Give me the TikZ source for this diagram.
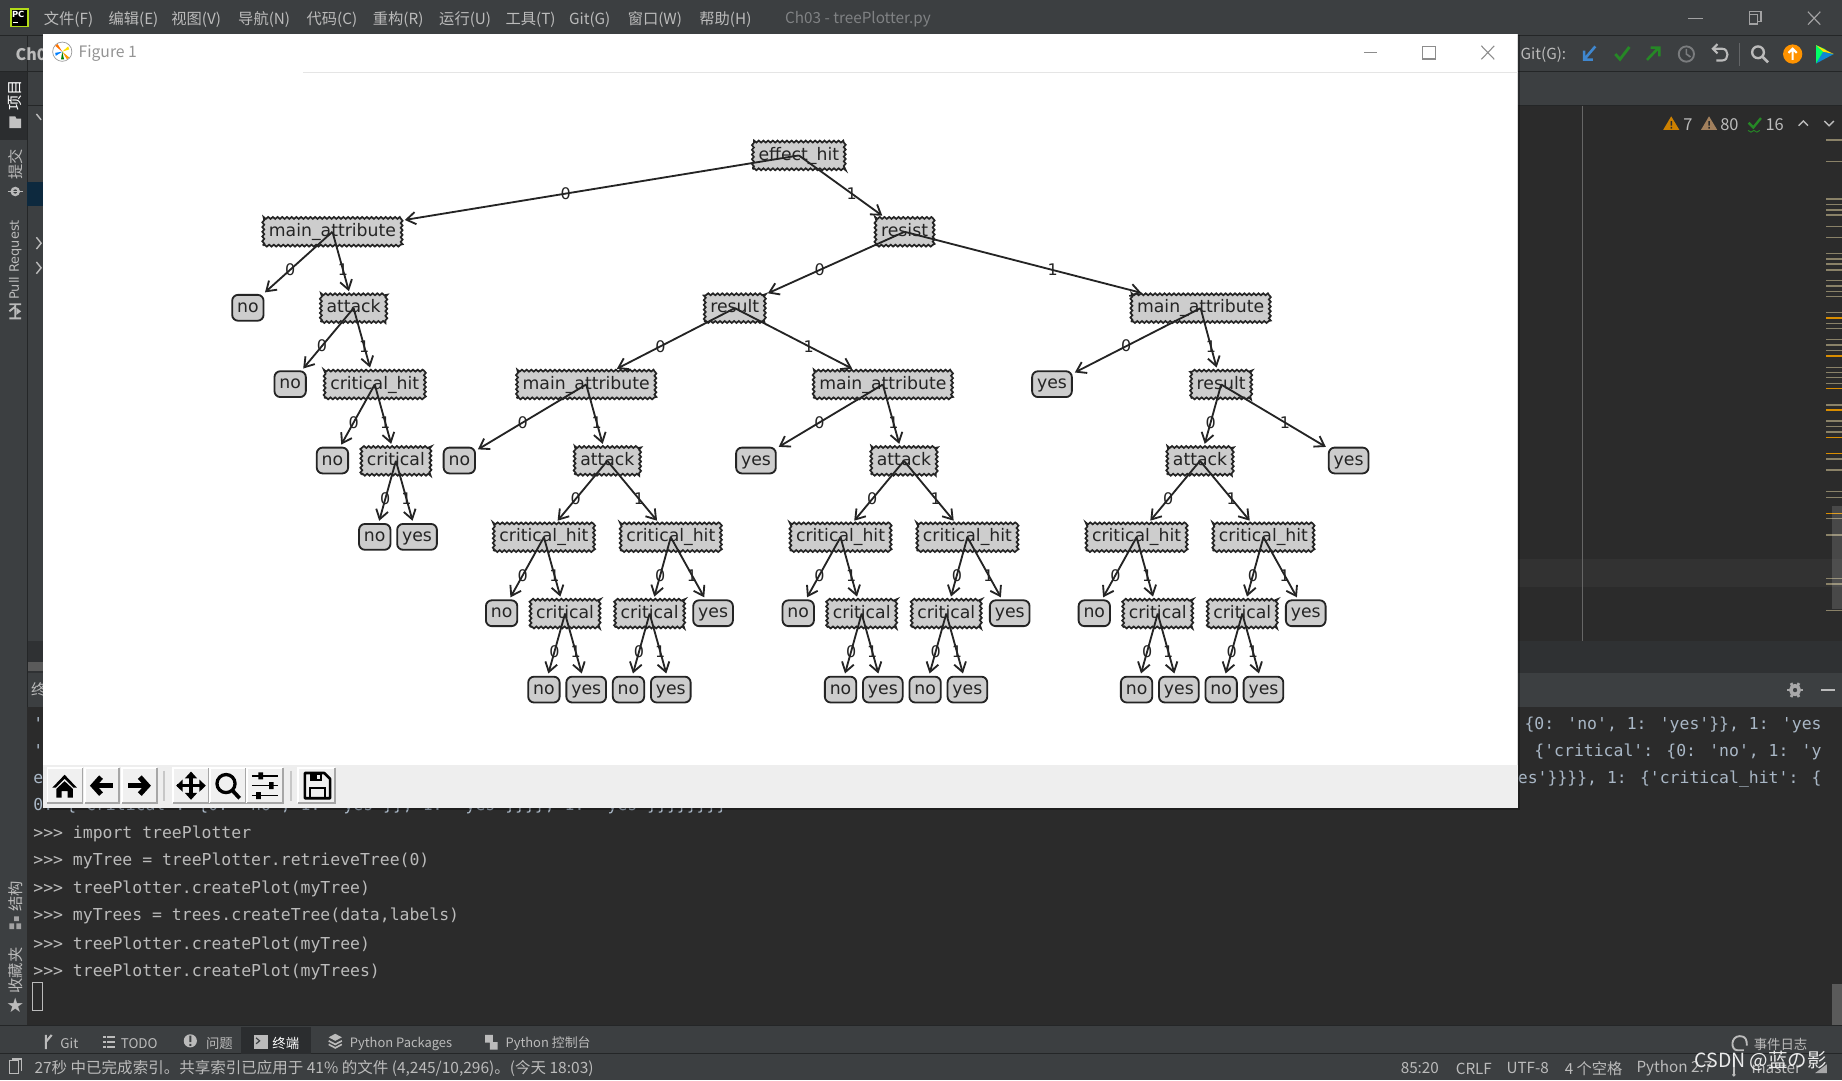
\documentclass[tikz,border=0pt]{standalone}
\usepackage{fontspec}
\setmainfont{Noto Sans CJK SC}
\newfontfamily\treefont{DejaVu Sans}
\newfontfamily\monofont{DejaVu Sans Mono}
\usetikzlibrary{arrows.meta,calc,decorations.pathmorphing,shapes.geometric}
\definecolor{ide}{HTML}{3C3F41}
\definecolor{dark}{HTML}{2B2B2B}
\definecolor{caretrow}{HTML}{323232}
\definecolor{stripe}{HTML}{8A8268}
\definecolor{selrow}{HTML}{0D293E}
\definecolor{uitext}{HTML}{BBBBBB}
\definecolor{mono}{HTML}{A9B7C6}
\definecolor{boxfill}{HTML}{CDCDCD}
\definecolor{ink}{HTML}{242424}
\newcommand{\fsz}[1]{\fontsize{#1}{#1}\selectfont}
\tikzset{
  ui/.style={inner sep=0pt,anchor=west,yshift=-0.5pt,text=uitext,font=\fsz{6.5}},
  tab/.style={ui,font=\fsz{5.7}},
  term/.style={inner sep=0pt,anchor=west,yshift=-1pt,text=mono,font=\monofont\fsz{7}},
  termr/.style={term,anchor=east},
  vert/.style={inner sep=0pt,rotate=90,xshift=0.4pt,text=uitext,font=\fsz{6.5}},
  dec/.style={draw=ink,fill=boxfill,line width=0.72pt,decorate,yshift=-0.65pt,
    decoration={zigzag,segment length=2pt,amplitude=0.42pt},
    inner xsep=2.4pt,inner ysep=2.3pt,text height=5.6pt,text depth=1.6pt,
    font=\treefont\fsz{7.35},text=ink},
  leaf/.style={draw=ink,fill=boxfill,line width=0.78pt,rounded corners=2.5pt,yshift=-0.5pt,
    inner xsep=2.1pt,inner ysep=1.9pt,text height=5.6pt,text depth=1.6pt,
    font=\treefont\fsz{7.35},text=ink},
  edge/.style={draw=ink,line width=0.78pt,-{Straight Barb[length=3.9pt,width=5.2pt]},shorten >=1pt},
  lab/.style={inner sep=0pt,font=\treefont\fsz{6.8},text=ink},
}
\newcommand{\ed}[3]{\draw[edge] (#1.center) -- (#2);
  \node[lab] (l#1#2) at ($(#1.center)!0.5!(#2.center)$) {#3};}
% attack subtree repeated three times
\newcommand{\subt}[2]{%
  \node[dec] (#1at) at (#2,391) {attack};
  \node[dec] (#1cha) at ({#2-54},456) {critical\_hit};
  \node[dec] (#1chb) at ({#2+54},456) {critical\_hit};
  \node[leaf] (#1n1) at ({#2-90},521) {no};
  \node[dec] (#1cra) at ({#2-36},521) {critical};
  \node[dec] (#1crb) at ({#2+36},521) {critical};
  \node[leaf] (#1y1) at ({#2+90},521) {yes};
  \node[leaf] (#1n2) at ({#2-54},586) {no};
  \node[leaf] (#1y2) at ({#2-18},586) {yes};
  \node[leaf] (#1n3) at ({#2+18},586) {no};
  \node[leaf] (#1y3) at ({#2+54},586) {yes};
  \ed{#1at}{#1cha}{0}\ed{#1at}{#1chb}{1}
  \ed{#1cha}{#1n1}{0}\ed{#1cha}{#1cra}{1}
  \ed{#1chb}{#1crb}{0}\ed{#1chb}{#1y1}{1}
  \ed{#1cra}{#1n2}{0}\ed{#1cra}{#1y2}{1}
  \ed{#1crb}{#1n3}{0}\ed{#1crb}{#1y3}{1}
}
\newcommand{\tbtn}[2]{%
  \fill[white!94!black] (#1,653.8) rectangle (#2,683.6);
  \draw[white,line width=0.5pt] (#1,683.6) -- (#1,653.8) -- (#2,653.8);
  \draw[black!35,line width=0.6pt] (#2,653.8) -- (#2,683.6) -- (#1,683.6);
}
\begin{document}
\begin{tikzpicture}[x=0.5pt,y=-0.5pt]
\useasboundingbox (0,0) rectangle (1568,919.35);
% ---------- IDE background
\fill[ide] (0,0) rectangle (1568,919.35);
\draw[black!40!ide,line width=0.4pt] (0,30.5) -- (1568,30.5);
\draw[black!40!ide,line width=0.4pt] (0,61) -- (1568,61);
\draw[black!40!ide,line width=0.4pt] (0,90) -- (1568,90);
\fill[black!22!ide] (1292,546) rectangle (1568,573);
\fill[black!22!ide] (23,546) rectangle (37,573);
% editor
\fill[dark] (1292,90) rectangle (1568,546);
\fill[caretrow] (1292,476) rectangle (1568,499.7);
\draw[white!28!dark,line width=0.5pt] (1347,90) -- (1347,546);
% stripes
\foreach \s in {101,155,250,265,278,291,320,348,388,402,415,430,456,470,484,497,537,565,578,606,620,634,676,689,702,717,771,812,826,840,908,936,990,1005,1059,1100,1210,1224,1292}
  \fill[stripe] (1554.5,{85.13+\s*0.3365-0.6}) rectangle (1568,{85.13+\s*0.3365+0.6});
\foreach \s in {552,648,730,784,854,894,1046}
  \fill[orange!70!yellow!85!black] (1554.5,{85.13+\s*0.3365-0.65}) rectangle (1568,{85.13+\s*0.3365+0.65});
\fill[white,opacity=0.14] (1559.6,430.8) rectangle (1568,518);
% left strip
\draw[black!40!ide,line width=0.4pt] (23,31) -- (23,873);
\fill[black!28!ide] (0,61) rectangle (23,119);
\fill[selrow] (23,155) rectangle (37,175.6);
\draw[uitext,line width=0.6pt] (31,97) -- (35,102);
\draw[uitext,line width=0.6pt] (31,202) -- (35,207) -- (31,212);
\draw[uitext,line width=0.6pt] (31,223) -- (35,228) -- (31,233);
\fill[white!22!dark] (24,563.5) rectangle (37,571);
\node[inner sep=0pt,text=uitext,font=\fsz{6.5}] (pan) at (33,587) {终};
% terminal
\fill[dark] (23,602) rectangle (1568,873);
\node[term] (tl1) at (28,614) {'};
\node[term] (tl2) at (28,637) {'};
\node[term] (tl3) at (28,661) {e};
\node[termr] (tr1) at (1551,615) {: \{0: 'no', 1: 'yes'\}\}, 1: 'yes};
\node[termr] (tr2) at (1551,638) {0: \{'critical': \{0: 'no', 1: 'y};
\node[termr] (tr3) at (1551,661) {'yes'\}\}\}\}, 1: \{'critical\_hit': \{};
\node[term] (tl4) at (28,684) {0: \{'critical': \{0: 'no', 1: 'yes'\}\}, 1: 'yes'\}\}\}\}, 1: 'yes'\}\}\}\}\}\}\}\}};
\node[term,text=uitext] (t1) at (28,708) {>>> import treePlotter};
\node[term,text=uitext] (t2) at (28,731) {>>> myTree = treePlotter.retrieveTree(0)};
\node[term,text=uitext] (t3) at (28,755) {>>> treePlotter.createPlot(myTree)};
\node[term,text=uitext] (t4) at (28,778) {>>> myTrees = trees.createTree(data,labels)};
\node[term,text=uitext] (t5) at (28,802) {>>> treePlotter.createPlot(myTree)};
\node[term,text=uitext] (t6) at (28,825) {>>> treePlotter.createPlot(myTrees)};
\draw[uitext,line width=0.4pt] (27.6,836.5) rectangle (36,860);
\fill[white!22!dark] (1559.5,838) rectangle (1568,873);
% menu bar
\fill[black] (8.7,7.6) rectangle (24,23);
\draw[yellow!70!green,line width=0.8pt] (9.1,8) rectangle (23.6,22.6);
\node[inner sep=0pt,text=white,font=\treefont\bfseries\fsz{3.6}] (pc) at (15.5,12.5) {PC};
\draw[white,line width=0.4pt] (11,19.5) -- (15,19.5);
\node[ui] (m1) at (37,15.5) {文件(F)};
\node[ui] (m2) at (92,15.5) {编辑(E)};
\node[ui] (m3) at (145.5,15.5) {视图(V)};
\node[ui] (m4) at (202.4,15.5) {导航(N)};
\node[ui] (m5) at (260.6,15.5) {代码(C)};
\node[ui] (m6) at (317,15.5) {重构(R)};
\node[ui] (m7) at (373.5,15.5) {运行(U)};
\node[ui] (m8) at (430,15.5) {工具(T)};
\node[ui] (m9) at (484,15.5) {Git(G)};
\node[ui] (m10) at (534,15.5) {窗口(W)};
\node[ui] (m11) at (595,15.5) {帮助(H)};
\node[ui,text=white!35!ide] (title) at (668,15.5) {Ch03 - treePlotter.py};
% main window controls
\draw[uitext!80!ide,line width=0.5pt] (1437,16) -- (1450,16);
\draw[uitext!80!ide,line width=0.5pt] (1489,12) -- (1489,10) -- (1499,10) -- (1499,18) -- (1496,18);
\draw[uitext!80!ide,line width=0.5pt] (1489,12) rectangle (1496,20.5);
\draw[uitext!80!ide,line width=0.5pt] (1539,10) -- (1549.5,21) (1549.5,10) -- (1539,21);
% nav bar
\node[inner sep=0pt,anchor=west,text=uitext,font=\bfseries\fsz{6.8}] (ch) at (13,46) {Ch03};
\node[ui] (git) at (1294,46) {Git(G):};
% blue arrow
\draw[cyan!55!blue!80,line width=1.1pt] (1358,39.5) -- (1349,50) (1348.5,43) -- (1348.5,50.8) -- (1356,50.8);
% green check
\draw[green!45!black!85,line width=1.2pt] (1375,46) -- (1379,50.5) -- (1387,40);
% green arrow
\draw[green!45!black!85,line width=1.1pt] (1402,51) -- (1412,40.5) (1405,40.5) -- (1412.5,40.5) -- (1412.5,48);
% clock
\draw[white!32!ide,line width=0.8pt] (1435.5,46) circle[radius=6.5];
\draw[white!32!ide,line width=0.7pt] (1435.5,41.5) -- (1435.5,46) -- (1439,48.5);
% undo
\draw[uitext,line width=0.9pt] (1459,41.5) -- (1466,41.5) .. controls (1472,41.5) and (1472,51.5) .. (1466,51.5) -- (1461,51.5);
\draw[uitext,line width=0.9pt] (1462,37.5) -- (1458,41.5) -- (1462,45.5);
\draw[white!20!ide,line width=0.4pt] (1480.4,37) -- (1480.4,56);
% search
\draw[uitext,line width=1pt] (1496.5,44.5) circle[radius=5];
\draw[uitext,line width=1.2pt] (1500.5,48.5) -- (1505,53);
% orange circle
\fill[orange!85!yellow] (1526,46) circle[radius=8.2];
\draw[white,line width=0.9pt] (1526,51) -- (1526,42) (1522.5,45) -- (1526,41.5) -- (1529.5,45);
% colour logo
\fill[green!60!cyan] (1546,38.5) -- (1554,42) -- (1546,54) -- cycle;
\fill[cyan!70!blue] (1546,54) -- (1561,46) -- (1552,44) -- cycle;
\fill[yellow!80!orange] (1546,38.5) -- (1561,46) -- (1552,44) -- cycle;
% inspection summary
\fill[orange!75!yellow!80!black] (1422.6,99) -- (1429.5,110.5) -- (1415.8,110.5) -- cycle;
\fill[dark] (1422,103) rectangle (1423.3,107) (1422,108) rectangle (1423.3,109.4);
\node[ui,font=\fsz{7}] (w1) at (1432.5,105) {7};
\fill[brown!55!gray] (1454.8,99) -- (1461.7,110.5) -- (1448,110.5) -- cycle;
\fill[dark] (1454.2,103) rectangle (1455.5,107) (1454.2,108) rectangle (1455.5,109.4);
\node[ui,font=\fsz{7}] (w2) at (1464,105) {80};
\draw[green!45!black!85,line width=1pt] (1488.5,104.5) -- (1492.5,108.5) -- (1499,100.5);
\draw[green!45!black!85,line width=0.4pt] (1488,111) -- (1490.5,112.5) -- (1493,111) -- (1495.5,112.5) -- (1498,111);
\node[ui,font=\fsz{7}] (w3) at (1502.5,105) {16};
\draw[uitext,line width=0.6pt] (1531,107) -- (1535,103) -- (1539,107);
\draw[uitext,line width=0.6pt] (1553,103) -- (1557,107) -- (1561,103);
% terminal header
\coordinate (gearc) at (1528,587.4);
\draw[uitext!85!ide,line width=1.5pt] (gearc) circle[radius=3.6];
\foreach \a in {0,60,...,300} \draw[uitext!85!ide,line width=1.2pt] ($(gearc)+(\a:4.2)$) -- ($(gearc)+(\a:6.8)$);
\draw[uitext,line width=0.8pt] (1550,587.4) -- (1562,587.4);
% left vertical tabs
\node[vert,text=white] (v1) at (13,82) {项目};
\fill[uitext!90!white] (8,99) -- (13,99) -- (14,101) -- (18,101) -- (18,109) -- (8,109) -- cycle;
\node[vert] (v2) at (13,141) {提交};
\draw[uitext,line width=1pt] (13,163) circle[radius=3];
\draw[uitext,line width=0.7pt] (6.5,163) -- (19.5,163);
\node[vert,font=\treefont\fsz{5.5}] (v3) at (13,222) {Pull Request};
\draw[uitext,line width=0.8pt] (8,259) -- (18,259) (13,259) -- (13,271) (8,265) -- (13,261) (8,271) -- (18,271);
\fill[uitext] (14,262) -- (18,265) -- (14,268) -- cycle;
\node[vert] (v4) at (13,764) {结构};
\fill[uitext!80!ide] (12,780) rectangle (16,784) (8,786) rectangle (12,791) (14,786) rectangle (18,791);
\node[vert] (v5) at (13,827) {收藏夹};
\node[inner sep=0pt,text=uitext,font=\treefont\fsz{8.5}] (star) at (13,855.5) {★};
% bottom tool bar
\draw[black!40!ide,line width=0.4pt] (0,873) -- (1568,873);
\draw[black!40!ide,line width=0.4pt] (0,897) -- (1568,897);
\fill[black!28!ide] (205,874) rectangle (265,897);
\draw[uitext,line width=0.9pt] (39,881) -- (39,893) (39,887) -- (44,881);
\node[tab] (b1) at (51,887.5) {Git};
\foreach \q in {883,887,891} {\fill[uitext] (88,\q-0.7) rectangle (90,\q+0.7); \fill[uitext] (91,\q-0.7) rectangle (98,\q+0.7);}
\node[tab] (b2) at (102.5,887.5) {TODO};
\fill[uitext] (162,886) circle[radius=5.6];
\fill[ide] (161.2,881.5) rectangle (162.8,887) (161.2,888.5) rectangle (162.8,890.2);
\node[tab] (b3) at (175,887.5) {问题};
\fill[uitext] (216,881) rectangle (228,893);
\draw[ide,line width=0.5pt] (218,883.5) -- (221,886) -- (218,888.5);
\node[tab,text=white] (b4) at (231.5,887.5) {终端};
\fill[uitext] (285.4,880) -- (291,883) -- (285.4,886) -- (279.8,883) -- cycle;
\draw[uitext,line width=0.7pt] (279.8,886) -- (285.4,889) -- (291,886) (279.8,889) -- (285.4,892) -- (291,889);
\node[tab,font=\fsz{5.5}] (b5) at (297.5,887.5) {Python Packages};
\fill[uitext] (413,881) rectangle (419.5,887.5) (417,887) rectangle (423.5,893.5);
\node[tab,font=\fsz{5.5}] (b6) at (430,887.5) {Python 控制台};
\draw[uitext,line width=0.8pt] (1484.5,894) -- (1479,894) .. controls (1473,894) and (1473,882) .. (1481,882) .. controls (1486,882) and (1487,885) .. (1487,890);
\node[tab] (b7) at (1492.5,888) {事件日志};
% status bar
\draw[uitext,line width=0.5pt] (8,903) rectangle (16,914);
\draw[uitext,line width=0.5pt] (10,901.5) -- (18,901.5) -- (18,912);
\node[ui,font=\fsz{6.6}] (s1) at (29,908.5) {27秒 中已完成索引。共享索引已应用于 41\% 的文件 (4,245/10,296)。(今天 18:03)};
\node[ui] (s2) at (1192,908.5) {85:20};
\node[ui] (s3) at (1238.8,908.5) {CRLF};
\node[ui] (s4) at (1282,908.5) {UTF-8};
\node[ui] (s5) at (1331.6,908.5) {4 个空格};
\node[ui] (s6) at (1392.7,908.5) {Python 2.7};
\draw[uitext,line width=0.7pt] (1476,900) -- (1476,915);
\fill[uitext] (1476,915) circle[radius=1.6];
\node[ui] (s7) at (1490.6,908.5) {master};
\fill[uitext!85!ide] (1545,913.5) -- (1555,913.5) -- (1555,906) -- cycle;
\node[inner sep=0pt,anchor=west,yshift=-0.5pt,text=white!92!black,font=\fsz{8.3}] (wm) at (1442,902.5) {CSDN @蓝の影};
% ---------- figure window
\fill[black,opacity=0.3] (38,30) rectangle (1294,689.5);
\fill[white] (37,29) rectangle (1292,687.6);
\draw[black!14,line width=0.4pt] (1292,29) -- (1292,687.6);
\draw[black!10,line width=0.5pt] (258,61.4) -- (1292,61.4);
\fill[black!6.5] (37,651.5) rectangle (1292,687.6);
\draw[black!40,line width=0.3pt] (53,44) circle[radius=8.2];
\fill[orange!90!red] (53,44) -- (47,39) -- (49,37.5) -- cycle;
\fill[yellow!85!orange] (53,44) -- (59,42) -- (58,39.5) -- cycle;
\fill[orange!80!yellow] (53,44) -- (59,49) -- (57,50.5) -- cycle;
\fill[green!50!black] (53,44) -- (52,50.5) -- (54.5,50.5) -- cycle;
\fill[blue!50!cyan] (53,44) -- (47,45) -- (47.5,47.5) -- cycle;
\node[inner sep=0pt,anchor=west,yshift=-0.5pt,text=black!42,font=\fsz{6.7}] (figt) at (66.5,44.5) {Figure 1};
\draw[black!45,line width=0.45pt] (1161,44.5) -- (1172.5,44.5);
\draw[black!45,line width=0.45pt] (1211,39.2) rectangle (1222,50.2);
\draw[black!45,line width=0.45pt] (1261,39) -- (1272,50.5) (1272,39) -- (1261,50.5);
% mpl tool bar
\tbtn{40.3}{70.4}
\tbtn{72.4}{101.3}
\tbtn{103.9}{133.6}
\tbtn{147.3}{177.9}
\tbtn{178.8}{209.4}
\tbtn{210.3}{240.9}
\tbtn{253.7}{285.2}
\draw[black!22,line width=0.7pt] (139.6,656) -- (139.6,682);
\draw[black!22,line width=0.7pt] (247.7,656) -- (247.7,682);
% home
\fill[black] (55,659.5) -- (65.5,670.5) -- (62.5,670.5) -- (55,662.8) -- (47.5,670.5) -- (44.5,670.5) -- cycle;
\fill[black] (55,665) -- (62,671.5) -- (62,679) -- (57.5,679) -- (57.5,673.5) -- (52.5,673.5) -- (52.5,679) -- (48,679) -- (48,671.5) -- cycle;
% back / forward
\draw[black,line width=2.2pt,line join=miter] (86,661.5) -- (79.5,668.8) -- (86,676);
\draw[black,line width=2.2pt] (81,668.8) -- (96,668.8);
\draw[black,line width=2.2pt,line join=miter] (119,661.5) -- (125.5,668.8) -- (119,676);
\draw[black,line width=2.2pt] (109,668.8) -- (124,668.8);
% move
\draw[black,line width=1.3pt] (162.6,660) -- (162.6,678) (151,668.8) -- (174,668.8);
\fill[black] (162.6,656.8) -- (167.8,662.5) -- (157.4,662.5) -- cycle (162.6,680.8) -- (167.8,675) -- (157.4,675) -- cycle;
\fill[black] (150,668.8) -- (155.5,663.6) -- (155.5,674) -- cycle (175.2,668.8) -- (169.7,663.6) -- (169.7,674) -- cycle;
% zoom
\draw[black,line width=1.4pt] (192.4,667) circle[radius=7.7];
\draw[black,line width=1.6pt] (198,673) -- (204,679.5);
% sliders
\draw[black,line width=0.6pt] (214.5,660.5) -- (236.5,660.5) (214.5,668.8) -- (236.5,668.8) (214.5,677.2) -- (236.5,677.2);
\fill[black] (220,657.5) rectangle (224,663.5) (229,665.8) rectangle (233,671.8) (218,674.2) rectangle (222,680.2);
% save
\draw[black,line width=1.1pt,line join=round] (259.5,658) -- (276,658) -- (281,663) -- (281,679.5) -- (259.5,679.5) -- cycle;
\fill[black] (264,658) rectangle (274.5,664.5);
\fill[white!94!black] (270,659.3) rectangle (272.5,663.2);
\draw[black,line width=0.9pt] (264,679.5) -- (264,671) -- (276.5,671) -- (276.5,679.5);
% ---------- decision tree
\node[dec] (root) at (680,131) {effect\_hit};
\node[dec] (resist) at (770,196) {resist};
\node[dec] (ma) at (283,196) {main\_attribute};
\node[leaf] (no1) at (211,261) {no};
\node[dec] (atk1) at (301,261) {attack};
\node[leaf] (no2) at (247,326) {no};
\node[dec] (ch1) at (319,326) {critical\_hit};
\node[leaf] (no3) at (283,391) {no};
\node[dec] (cr1) at (337,391) {critical};
\node[leaf] (no4) at (319,456) {no};
\node[leaf] (yes1) at (355,456) {yes};
\node[dec] (res) at (625.5,261) {result};
\node[dec] (mb) at (1022,261) {main\_attribute};
\node[dec] (mc) at (499,326) {main\_attribute};
\node[dec] (md) at (751.5,326) {main\_attribute};
\node[leaf] (no5) at (391,391) {no};
\node[leaf] (yes5) at (643.5,391) {yes};
\node[leaf] (yes6) at (895.5,326) {yes};
\node[dec] (res2) at (1039.5,326) {result};
\node[leaf] (yes7) at (1148,391) {yes};
\subt{a}{517}
\subt{b}{769.5}
\subt{c}{1021.5}
\ed{root}{ma}{0}\ed{root}{resist}{1}
\ed{ma}{no1}{0}\ed{ma}{atk1}{1}
\ed{atk1}{no2}{0}\ed{atk1}{ch1}{1}
\ed{ch1}{no3}{0}\ed{ch1}{cr1}{1}
\ed{cr1}{no4}{0}\ed{cr1}{yes1}{1}
\ed{resist}{res}{0}\ed{resist}{mb}{1}
\ed{res}{mc}{0}\ed{res}{md}{1}
\ed{mc}{no5}{0}\ed{mc}{aat}{1}
\ed{md}{yes5}{0}\ed{md}{bat}{1}
\ed{mb}{yes6}{0}\ed{mb}{res2}{1}
\ed{res2}{cat}{0}\ed{res2}{yes7}{1}
\end{tikzpicture}
\end{document}
